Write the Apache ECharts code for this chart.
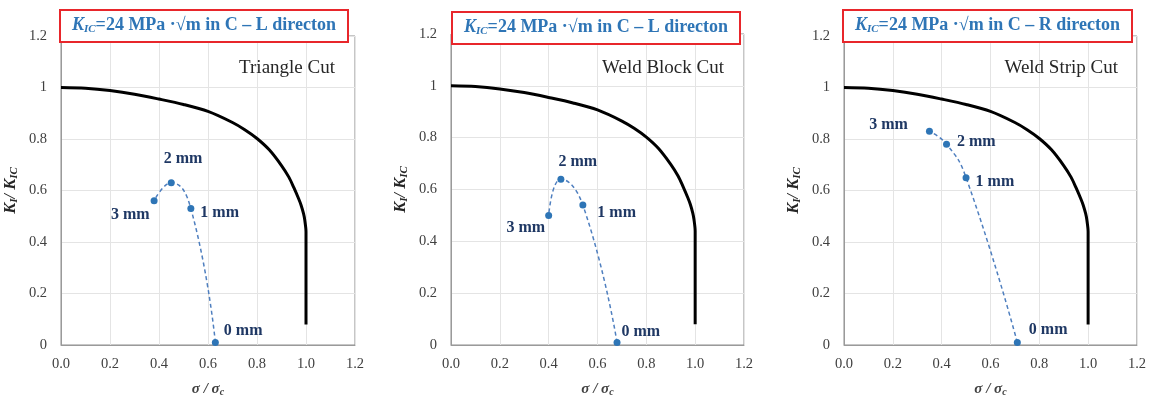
<!DOCTYPE html>
<html>
<head>
<meta charset="utf-8">
<script src="https://cdn.jsdelivr.net/npm/echarts@6/dist/echarts.min.js"></script>
<style>
  html, body { margin: 0; padding: 0; background: #fff; }
  #main { width: 1149px; height: 402px; }
</style>
</head>
<body>
<div id="main"></div>
<script>
// failure assessment curve
const fadSr = [0, 0.1, 0.2, 0.3, 0.4, 0.5, 0.6, 0.7, 0.75, 0.8, 0.85, 0.9, 0.93, 0.95, 0.97, 0.98, 0.99, 0.995, 1.0, 1.0, 1.0];
const fadKr = [1.0, 0.997, 0.988, 0.974, 0.955, 0.934, 0.907, 0.864, 0.836, 0.802, 0.758, 0.697, 0.652, 0.612, 0.568, 0.543, 0.51, 0.485, 0.44, 0.3, 0.08];

const cutNames = ['Triangle Cut', 'Weld Block Cut', 'Weld Strip Cut'];
const directions = ['C – L', 'C – L', 'C – R'];
const depthLabels = ['0 mm', '1 mm', '2 mm', '3 mm'];

const triSr = [0.63, 0.53, 0.45, 0.38];
const triKr = [0.01, 0.53, 0.63, 0.56];
const blockSr = [0.68, 0.54, 0.45, 0.40];
const blockKr = [0.01, 0.54, 0.64, 0.50];
const stripSr = [0.71, 0.50, 0.42, 0.35];
const stripKr = [0.01, 0.65, 0.78, 0.83];

const cutSr = [triSr, blockSr, stripSr];
const cutKr = [triKr, blockKr, stripKr];

// layout
const grids = [
  { left: 61, top: 36, width: 294, height: 317 },
  { left: 451, top: 34, width: 293, height: 317 },
  { left: 844, top: 36, width: 294, height: 317 }
];
const boxPos = [[60, 9], [452, 11], [843, 9]];
// label placement per point: [position, dx, dy]
const labelPlace = [
  [['right', 5, -12], ['right', 6, 4], ['right', -11, -24], ['left', -1, 14]],
  [['right', 1, -11], ['right', 11, 8], ['right', -6, -17], ['left', 0, 12]],
  [['right', 8, -13], ['right', 6, 4], ['right', 7, -2], ['left', -18, -6]]
];

const serif = '"Liberation Serif", "DejaVu Serif", serif';
const blue = '#2E75B6';
const navy = '#1F3864';

var myChart = echarts.init(document.getElementById('main'));

let xAxis = [], yAxis = [], series = [], title = [], graphic = [];

grids.forEach((g, i) => {
  xAxis.push({
    type: 'value', gridIndex: i, min: 0, max: 1.2, interval: 0.2,
    name: '{a|σ / σ}{s|c}', nameLocation: 'middle', nameGap: 36,
    nameTextStyle: {
      rich: {
        a: { fontFamily: serif, fontSize: 15, fontStyle: 'italic', fontWeight: 'bold', color: '#404040' },
        s: { fontFamily: serif, fontSize: 10, fontStyle: 'italic', fontWeight: 'bold', color: '#404040', verticalAlign: 'bottom', padding: [6, 0, 0, 0] }
      }
    },
    axisLine: { show: true, lineStyle: { color: '#9a9a9a' } },
    axisTick: { show: false },
    axisLabel: { fontFamily: serif, fontSize: 14.5, color: '#404040', margin: 12, formatter: v => v.toFixed(1) },
    splitLine: { lineStyle: { color: '#e4e4e4' } }
  });
  yAxis.push({
    type: 'value', gridIndex: i, min: 0, max: 1.2, interval: 0.2,
    name: '{a|K}{s|I}{a|/ K}{s|IC}', nameLocation: 'middle', nameGap: 41, nameRotate: 90,
    nameTextStyle: {
      rich: {
        a: { fontFamily: serif, fontSize: 16.5, fontStyle: 'italic', fontWeight: 'bold', color: '#262626' },
        s: { fontFamily: serif, fontSize: 11, fontStyle: 'italic', fontWeight: 'bold', color: '#262626', verticalAlign: 'bottom', padding: [7, 0, 0, 0] }
      }
    },
    axisLine: { show: true, lineStyle: { color: '#9a9a9a' } },
    axisTick: { show: false },
    axisLabel: { fontFamily: serif, fontSize: 14.5, color: '#404040', margin: 14 },
    splitLine: { lineStyle: { color: '#e4e4e4' } }
  });

  series.push({
    type: 'line', xAxisIndex: i, yAxisIndex: i,
    data: fadSr.map((s, k) => [s, fadKr[k]]),
    showSymbol: false, smooth: 0.3,
    lineStyle: { color: '#000', width: 3 },
    silent: true, z: 2
  });

  series.push({
    type: 'line', xAxisIndex: i, yAxisIndex: i,
    data: cutSr[i].map((s, k) => {
      const p = labelPlace[i][k];
      return {
        value: [s, cutKr[i][k]],
        label: { position: p[0], offset: [p[1], p[2]] }
      };
    }),
    smooth: true,
    symbol: 'circle', symbolSize: 7,
    itemStyle: { color: blue },
    lineStyle: { color: '#4f7fbf', width: 1.5, type: [4, 3] },
    label: {
      show: true, distance: 0,
      formatter: p => depthLabels[p.dataIndex],
      fontFamily: serif, fontSize: 16, fontWeight: 'bold', color: navy
    },
    z: 3
  });

  title.push({
    left: boxPos[i][0], top: boxPos[i][1],
    text: '{k|K}{s|IC}{t|=24 MPa ·√m in ' + directions[i] + ' directon}',
    borderColor: '#e8262b', borderWidth: 2, backgroundColor: '#fff',
    padding: [7, 12],
    textStyle: {
      rich: {
        k: { fontFamily: serif, fontSize: 18, fontStyle: 'italic', fontWeight: 'bold', color: blue },
        s: { fontFamily: serif, fontSize: 11, fontStyle: 'italic', fontWeight: 'bold', color: blue, verticalAlign: 'bottom', padding: [8, 0, 0, 0] },
        t: { fontFamily: serif, fontSize: 18, fontWeight: 'bold', color: blue }
      }
    }
  });

  graphic.push({
    type: 'text', z: 100,
    x: g.left + g.width - 20, y: 68,
    style: {
      text: cutNames[i], fontFamily: serif, fontSize: 19, fill: '#262626',
      align: 'right', verticalAlign: 'middle'
    }
  });
});

let option = {
  animation: false,
  backgroundColor: '#fff',
  title: title,
  grid: grids.map(g => Object.assign({ show: true, borderColor: '#8c8c8c', borderWidth: 1 }, g)),
  xAxis: xAxis,
  yAxis: yAxis,
  series: series,
  graphic: graphic
};
myChart.setOption(option);
</script>
</body>
</html>
